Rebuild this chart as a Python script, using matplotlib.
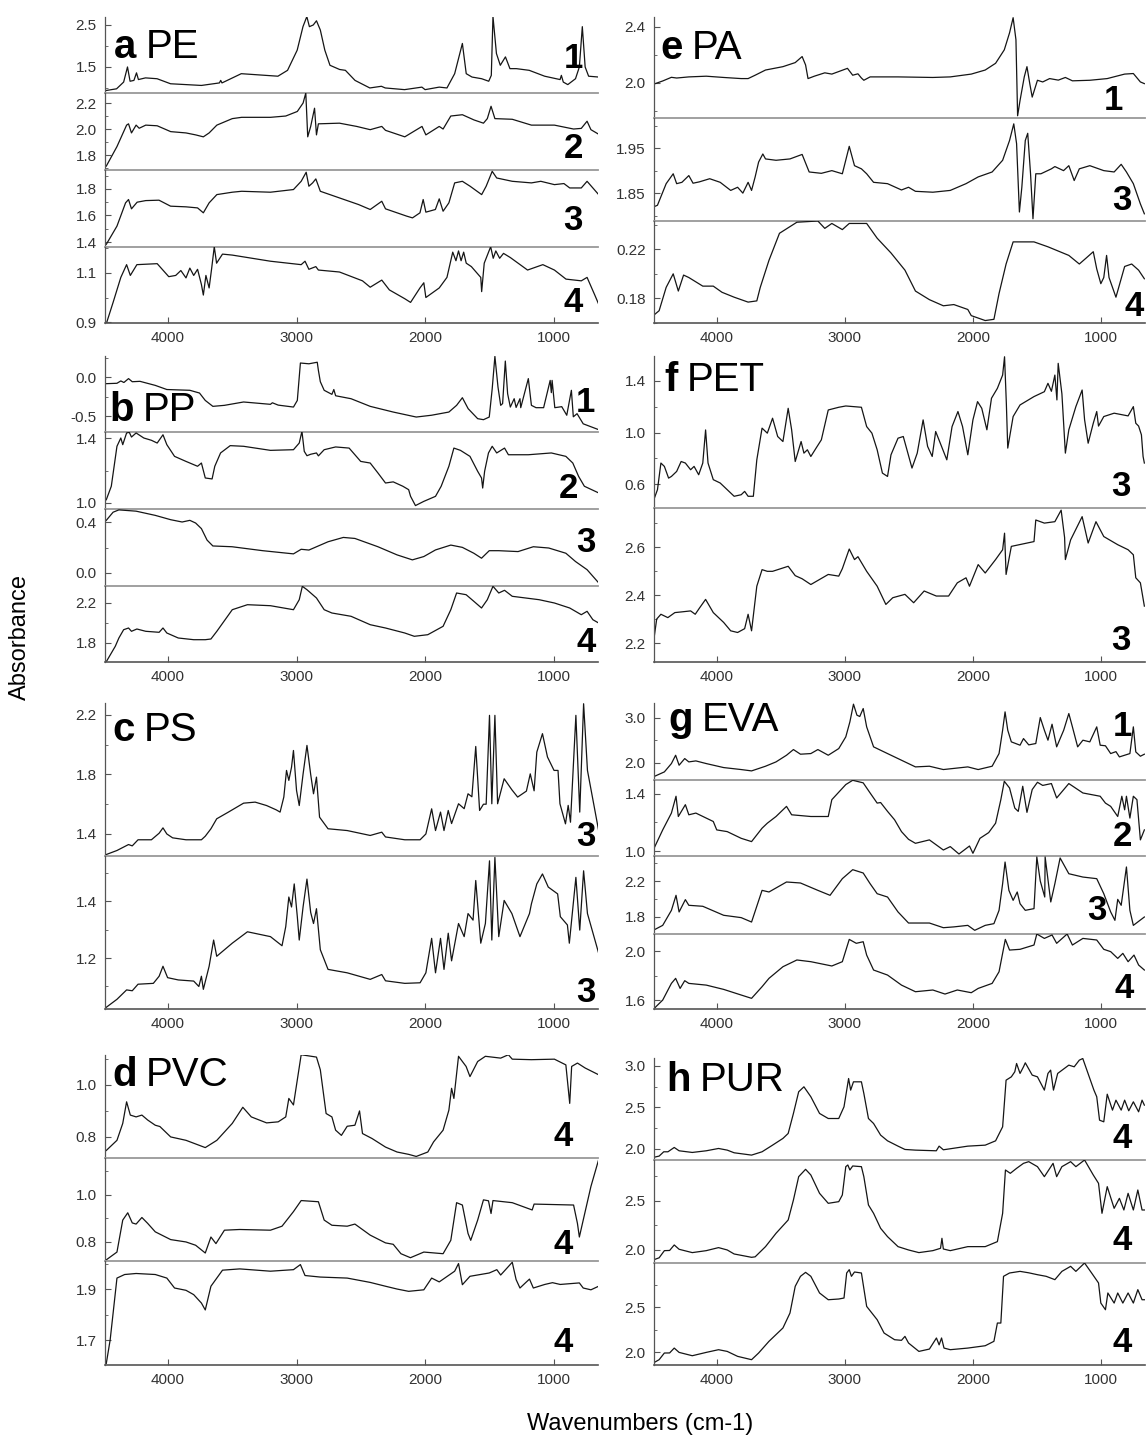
import matplotlib.pyplot as plt
from matplotlib.ticker import AutoMinorLocator

plt.rcParams['font.family'] = ['Liberation Sans', 'DejaVu Sans']

W, H = 1146, 1438

# spectra: (wavenumber cm-1, absorbance)
pe_1 = [(4480, 0.94), (4400, 0.98), (4345, 1.14), (4315, 1.50), (4295, 1.16), (4265, 1.18), (4245, 1.36),
        (4230, 1.20), (4175, 1.24), (4085, 1.22), (3980, 1.10), (3740, 1.06), (3600, 1.12), (3590, 1.18),
        (3580, 1.12), (3430, 1.34), (3145, 1.28), (3070, 1.42), (2995, 1.90), (2950, 2.46), (2920, 2.70),
        (2900, 2.46), (2870, 2.50), (2845, 2.60), (2815, 2.38), (2780, 1.90), (2740, 1.54), (2665, 1.44),
        (2620, 1.42), (2545, 1.18), (2430, 1.00), (2340, 1.04), (2310, 1.00), (2160, 0.96), (2025, 1.02),
        (2000, 0.96), (1890, 1.02), (1830, 1.00), (1770, 1.34), (1710, 2.06), (1680, 1.34), (1635, 1.26),
        (1560, 1.22), (1505, 1.16), (1485, 1.30), (1472, 2.70), (1445, 1.82), (1415, 1.54), (1375, 1.74),
        (1340, 1.46), (1290, 1.46), (1190, 1.42), (1070, 1.28), (950, 1.20), (940, 1.30), (925, 1.14),
        (890, 1.08), (830, 1.22), (800, 1.50), (777, 2.46), (755, 1.50), (728, 1.28), (650, 1.26)]
pe_2 = [(4480, 1.715), (4397, 1.865), (4322, 2.03), (4307, 2.04), (4284, 1.97), (4248, 2.03), (4224, 2.006),
        (4173, 2.03), (4084, 2.025), (3979, 1.98), (3860, 1.97), (3785, 1.955), (3725, 1.94), (3680, 1.97),
        (3620, 2.03), (3500, 2.08), (3427, 2.09), (3203, 2.09), (3084, 2.10), (2994, 2.135), (2949, 2.20),
        (2928, 2.277), (2913, 1.94), (2890, 2.02), (2860, 2.16), (2845, 1.955), (2830, 2.04), (2666, 2.045),
        (2532, 2.02), (2427, 1.995), (2337, 2.02), (2308, 1.99), (2158, 1.94), (2024, 2.02), (1994, 1.955),
        (1890, 2.02), (1860, 2.0), (1800, 2.10), (1710, 2.11), (1620, 2.07), (1546, 2.045), (1516, 2.08),
        (1487, 2.175), (1457, 2.08), (1322, 2.075), (1173, 2.03), (994, 2.03), (845, 2.0), (785, 2.005),
        (740, 2.06), (710, 1.995), (650, 1.96)]
pe_3 = [(4480, 1.383), (4397, 1.52), (4330, 1.695), (4307, 1.72), (4284, 1.65), (4240, 1.70), (4173, 1.712),
        (4070, 1.715), (3980, 1.67), (3860, 1.665), (3770, 1.657), (3725, 1.62), (3680, 1.695), (3620, 1.757),
        (3500, 1.775), (3427, 1.782), (3203, 1.775), (3024, 1.795), (2964, 1.857), (2925, 1.925), (2904, 1.82),
        (2875, 1.845), (2850, 1.875), (2815, 1.782), (2666, 1.732), (2517, 1.682), (2427, 1.645), (2337, 1.707),
        (2308, 1.65), (2218, 1.62), (2143, 1.595), (2098, 1.582), (2040, 1.62), (2015, 1.72), (1994, 1.625),
        (1920, 1.645), (1890, 1.725), (1860, 1.632), (1815, 1.695), (1770, 1.845), (1710, 1.857), (1650, 1.82),
        (1560, 1.757), (1525, 1.82), (1478, 1.932), (1443, 1.882), (1322, 1.857), (1173, 1.845), (1100, 1.857),
        (994, 1.832), (920, 1.84), (875, 1.807), (785, 1.807), (740, 1.857), (695, 1.807), (650, 1.757)]
pe_4 = [(4480, 0.893), (4427, 0.98), (4367, 1.082), (4322, 1.134), (4293, 1.09), (4242, 1.134), (4084, 1.138),
        (3994, 1.085), (3940, 1.09), (3900, 1.11), (3860, 1.08), (3830, 1.12), (3800, 1.09), (3770, 1.115),
        (3740, 1.053), (3725, 1.01), (3705, 1.09), (3680, 1.039), (3660, 1.12), (3640, 1.207), (3622, 1.14),
        (3576, 1.177), (3500, 1.173), (3203, 1.148), (2964, 1.134), (2934, 1.148), (2904, 1.115), (2850, 1.126),
        (2830, 1.112), (2666, 1.104), (2487, 1.068), (2427, 1.042), (2337, 1.071), (2278, 1.031), (2158, 0.995),
        (2113, 0.98), (2040, 1.039), (2010, 1.06), (1994, 1.0), (1890, 1.039), (1830, 1.082), (1785, 1.185),
        (1760, 1.15), (1740, 1.19), (1720, 1.15), (1700, 1.185), (1680, 1.14), (1640, 1.126), (1567, 1.082),
        (1560, 1.024), (1540, 1.14), (1490, 1.207), (1470, 1.16), (1450, 1.19), (1420, 1.16), (1390, 1.18),
        (1337, 1.163), (1203, 1.112), (1084, 1.134), (994, 1.112), (904, 1.075), (785, 1.068), (740, 1.082),
        (680, 1.01), (650, 0.973)]

pp_1 = [(4480, -0.085), (4397, -0.08), (4367, -0.05), (4343, -0.07), (4307, -0.02), (4278, -0.06),
        (4218, -0.055), (4099, -0.107), (4009, -0.16), (3830, -0.17), (3755, -0.205), (3710, -0.30),
        (3651, -0.376), (3561, -0.363), (3412, -0.32), (3203, -0.35), (3188, -0.33), (3143, -0.36),
        (3024, -0.385), (2994, -0.30), (2970, 0.18), (2904, 0.17), (2839, 0.19), (2830, 0.085), (2815, -0.06),
        (2785, -0.17), (2725, -0.222), (2710, -0.16), (2696, -0.24), (2576, -0.278), (2427, -0.376),
        (2248, -0.449), (2069, -0.513), (1950, -0.49), (1815, -0.449), (1755, -0.363), (1710, -0.265),
        (1665, -0.406), (1591, -0.534), (1546, -0.547), (1501, -0.513), (1478, -0.15), (1457, 0.265),
        (1433, -0.128), (1412, -0.363), (1397, -0.34), (1376, 0.205), (1358, -0.214), (1337, -0.385),
        (1307, -0.278), (1292, -0.39), (1262, -0.278), (1256, -0.393), (1197, -0.02), (1173, -0.363),
        (1137, -0.393), (1078, -0.393), (1027, -0.043), (1018, -0.20), (1012, -0.043), (991, -0.393),
        (937, -0.38), (898, -0.49), (862, -0.17), (847, -0.51), (818, -0.47), (770, -0.60), (650, -0.675)]
pp_2 = [(4480, 1.02), (4441, 1.103), (4397, 1.349), (4367, 1.40), (4352, 1.359), (4322, 1.431), (4301, 1.435),
        (4284, 1.406), (4248, 1.431), (4188, 1.40), (4129, 1.386), (4084, 1.369), (4039, 1.42), (4009, 1.359),
        (3949, 1.287), (3860, 1.256), (3770, 1.226), (3740, 1.246), (3710, 1.154), (3657, 1.148), (3636, 1.226),
        (3591, 1.308), (3516, 1.353), (3412, 1.349), (3203, 1.324), (3024, 1.328), (2979, 1.369), (2958, 1.441),
        (2940, 1.318), (2919, 1.291), (2890, 1.30), (2845, 1.308), (2830, 1.29), (2785, 1.328), (2696, 1.345),
        (2591, 1.338), (2501, 1.256), (2427, 1.246), (2367, 1.185), (2308, 1.123), (2248, 1.13), (2173, 1.103),
        (2128, 1.082), (2113, 1.041), (2075, 0.984), (2010, 1.01), (1919, 1.041), (1875, 1.103), (1815, 1.226),
        (1776, 1.338), (1725, 1.324), (1651, 1.287), (1591, 1.195), (1561, 1.154), (1552, 1.092), (1537, 1.195),
        (1507, 1.308), (1478, 1.349), (1443, 1.308), (1382, 1.338), (1352, 1.297), (1197, 1.297), (1018, 1.308),
        (905, 1.287), (851, 1.246), (806, 1.164), (761, 1.103), (650, 1.062)]
pp_3 = [(4480, 0.413), (4427, 0.477), (4382, 0.495), (4248, 0.485), (4099, 0.452), (3979, 0.418),
        (3890, 0.40), (3830, 0.413), (3785, 0.392), (3740, 0.348), (3696, 0.258), (3651, 0.212), (3502, 0.206),
        (3263, 0.175), (3024, 0.15), (2964, 0.186), (2904, 0.18), (2755, 0.245), (2636, 0.279), (2546, 0.271),
        (2367, 0.206), (2218, 0.142), (2099, 0.103), (2010, 0.129), (1919, 0.181), (1800, 0.219), (1710, 0.201),
        (1621, 0.155), (1561, 0.116), (1501, 0.175), (1427, 0.175), (1277, 0.168), (1158, 0.206), (1038, 0.196),
        (905, 0.155), (830, 0.09), (740, 0.026), (650, -0.077)]
pp_4 = [(4480, 1.613), (4410, 1.767), (4382, 1.85), (4345, 1.933), (4307, 1.95), (4284, 1.917), (4242, 1.94),
        (4173, 1.917), (4069, 1.907), (4039, 1.95), (4009, 1.90), (3920, 1.85), (3800, 1.833), (3710, 1.833),
        (3666, 1.84), (3620, 1.917), (3500, 2.133), (3382, 2.183), (3203, 2.173), (3024, 2.133), (2979, 2.233),
        (2955, 2.367), (2919, 2.333), (2845, 2.25), (2785, 2.133), (2725, 2.10), (2576, 2.067), (2427, 1.983),
        (2308, 1.95), (2158, 1.90), (2084, 1.867), (1979, 1.883), (1860, 1.967), (1800, 2.133), (1755, 2.30),
        (1681, 2.283), (1621, 2.217), (1561, 2.15), (1516, 2.233), (1472, 2.367), (1427, 2.30), (1382, 2.327),
        (1322, 2.267), (1113, 2.233), (994, 2.20), (875, 2.15), (785, 2.083), (740, 2.117), (695, 2.033),
        (650, 2.0)]

ps_1 = [(4480, 1.262), (4397, 1.289), (4307, 1.329), (4278, 1.32), (4233, 1.361), (4129, 1.361),
        (4069, 1.405), (4039, 1.441), (4009, 1.40), (3964, 1.374), (3860, 1.361), (3740, 1.361), (3710, 1.385),
        (3666, 1.435), (3621, 1.502), (3530, 1.547), (3412, 1.607), (3322, 1.614), (3233, 1.591), (3158, 1.562),
        (3128, 1.547), (3099, 1.648), (3078, 1.827), (3060, 1.76), (3039, 1.849), (3024, 1.961), (3000, 1.692),
        (2979, 1.591), (2949, 1.804), (2919, 1.995), (2890, 1.80), (2868, 1.67), (2845, 1.782), (2821, 1.513),
        (2755, 1.435), (2606, 1.423), (2427, 1.39), (2337, 1.412), (2308, 1.38), (2158, 1.361), (2039, 1.361),
        (1994, 1.40), (1949, 1.569), (1919, 1.423), (1880, 1.547), (1853, 1.423), (1820, 1.558), (1794, 1.47),
        (1740, 1.603), (1696, 1.57), (1666, 1.67), (1636, 1.65), (1606, 1.988), (1576, 1.558), (1546, 1.60),
        (1525, 1.60), (1499, 2.197), (1481, 1.603), (1457, 2.197), (1436, 1.603), (1385, 1.771), (1325, 1.697),
        (1280, 1.648), (1212, 1.688), (1182, 1.804), (1152, 1.69), (1131, 1.95), (1087, 2.074), (1048, 1.917),
        (997, 1.827), (966, 1.827), (951, 1.603), (908, 1.468), (887, 1.592), (869, 1.479), (827, 2.197),
        (797, 1.547), (767, 2.275), (737, 1.827), (650, 1.423)]
ps_2 = [(4480, 1.027), (4397, 1.055), (4322, 1.088), (4278, 1.085), (4233, 1.108), (4114, 1.111),
        (4069, 1.136), (4039, 1.171), (4003, 1.131), (3920, 1.123), (3800, 1.119), (3760, 1.10), (3740, 1.136),
        (3725, 1.09), (3680, 1.171), (3645, 1.263), (3621, 1.206), (3500, 1.252), (3382, 1.292), (3203, 1.275),
        (3113, 1.243), (3084, 1.31), (3060, 1.414), (3039, 1.379), (3018, 1.46), (2994, 1.345), (2979, 1.263),
        (2949, 1.38), (2919, 1.477), (2890, 1.36), (2868, 1.321), (2845, 1.373), (2815, 1.229), (2755, 1.16),
        (2606, 1.148), (2427, 1.125), (2337, 1.142), (2308, 1.12), (2158, 1.111), (2039, 1.113), (1994, 1.148),
        (1949, 1.269), (1919, 1.148), (1880, 1.269), (1853, 1.16), (1820, 1.287), (1794, 1.19), (1740, 1.321),
        (1696, 1.275), (1666, 1.356), (1627, 1.333), (1606, 1.472), (1567, 1.252), (1531, 1.321), (1499, 1.541),
        (1481, 1.263), (1457, 1.553), (1427, 1.275), (1385, 1.402), (1325, 1.356), (1262, 1.275), (1188, 1.356),
        (1173, 1.39), (1131, 1.46), (1087, 1.495), (1042, 1.449), (969, 1.425), (948, 1.345), (893, 1.316),
        (878, 1.252), (827, 1.483), (797, 1.298), (767, 1.506), (737, 1.356), (650, 1.217)]

pvc_1 = [(4480, 0.748), (4397, 0.787), (4352, 0.852), (4322, 0.935), (4293, 0.884), (4248, 0.877),
         (4203, 0.884), (4158, 0.865), (4099, 0.845), (4063, 0.84), (3979, 0.80), (3860, 0.787), (3710, 0.759),
         (3620, 0.787), (3500, 0.852), (3418, 0.914), (3352, 0.877), (3233, 0.854), (3143, 0.858), (3084, 0.877),
         (3060, 0.948), (3024, 0.923), (2964, 1.116), (2845, 1.107), (2815, 1.058), (2770, 0.89), (2725, 0.877),
         (2696, 0.826), (2651, 0.806), (2606, 0.841), (2546, 0.845), (2510, 0.90), (2487, 0.813), (2413, 0.794),
         (2308, 0.761), (2218, 0.742), (2128, 0.733), (2069, 0.725), (1979, 0.742), (1934, 0.781), (1860, 0.826),
         (1815, 0.903), (1794, 0.987), (1776, 0.948), (1740, 1.11), (1681, 1.071), (1651, 1.032), (1591, 1.09),
         (1531, 1.11), (1412, 1.103), (1352, 1.116), (1322, 1.099), (1173, 1.097), (994, 1.099), (905, 1.077),
         (875, 0.929), (860, 1.071), (815, 1.084), (755, 1.065), (650, 1.039)]
pvc_2 = [(4480, 0.724), (4397, 0.757), (4352, 0.893), (4313, 0.924), (4278, 0.881), (4248, 0.876),
         (4203, 0.904), (4158, 0.879), (4099, 0.843), (3979, 0.81), (3860, 0.80), (3785, 0.786), (3710, 0.753),
         (3666, 0.821), (3627, 0.793), (3561, 0.85), (3442, 0.853), (3203, 0.85), (3113, 0.867), (3024, 0.929),
         (2964, 0.976), (2830, 0.971), (2785, 0.893), (2725, 0.871), (2606, 0.867), (2546, 0.876), (2427, 0.829),
         (2308, 0.796), (2248, 0.79), (2188, 0.75), (2114, 0.733), (2010, 0.757), (1860, 0.75), (1800, 0.807),
         (1755, 0.967), (1710, 0.957), (1666, 0.836), (1645, 0.807), (1591, 0.893), (1546, 0.979), (1507, 0.975),
         (1487, 0.921), (1472, 0.976), (1322, 0.967), (1167, 0.936), (1152, 0.961), (845, 0.957), (815, 0.879),
         (800, 0.821), (770, 0.893), (710, 1.036), (650, 1.15)]
pvc_3 = [(4480, 1.608), (4450, 1.70), (4427, 1.805), (4397, 1.943), (4337, 1.957), (4248, 1.961),
         (4099, 1.957), (4009, 1.943), (3949, 1.904), (3860, 1.895), (3800, 1.878), (3740, 1.845), (3710, 1.818),
         (3666, 1.911), (3576, 1.974), (3442, 1.979), (3203, 1.97), (3024, 1.976), (2970, 1.996), (2934, 1.953),
         (2815, 1.947), (2606, 1.943), (2427, 1.926), (2308, 1.911), (2218, 1.90), (2128, 1.891), (2010, 1.897),
         (1949, 1.943), (1890, 1.928), (1770, 1.97), (1740, 2.00), (1710, 1.917), (1651, 1.95), (1501, 1.963),
         (1442, 1.976), (1412, 1.955), (1322, 2.005), (1292, 1.937), (1262, 1.904), (1218, 1.925), (1188, 1.939),
         (1158, 1.904), (1069, 1.918), (1009, 1.925), (949, 1.918), (800, 1.924), (770, 1.904), (710, 1.897),
         (650, 1.911)]

pa_1 = [(4496, 1.99), (4422, 2.014), (4354, 2.04), (4313, 2.035), (4218, 2.043), (4082, 2.048), (3946, 2.039),
        (3809, 2.031), (3755, 2.031), (3700, 2.055), (3619, 2.092), (3483, 2.116), (3387, 2.145), (3333, 2.188),
        (3306, 2.128), (3287, 2.031), (3238, 2.048), (3156, 2.072), (3101, 2.063), (2979, 2.104), (2938, 2.055),
        (2897, 2.065), (2870, 2.035), (2851, 2.019), (2802, 2.043), (2584, 2.043), (2312, 2.039), (2176, 2.043),
        (2012, 2.063), (1903, 2.092), (1822, 2.14), (1754, 2.236), (1713, 2.357), (1685, 2.465), (1663, 2.308),
        (1650, 1.766), (1631, 1.875), (1598, 2.043), (1577, 2.116), (1555, 1.995), (1536, 1.899), (1495, 2.019),
        (1454, 2.007), (1400, 2.031), (1332, 2.02), (1277, 2.039), (1222, 2.015), (1086, 2.019), (950, 2.031),
        (814, 2.063), (746, 2.067), (691, 2.007), (660, 1.995)]
pa_3 = [(4496, 1.819), (4463, 1.823), (4395, 1.871), (4340, 1.893), (4313, 1.871), (4272, 1.874), (4218, 1.889),
        (4185, 1.872), (4136, 1.875), (4055, 1.882), (3973, 1.874), (3891, 1.856), (3837, 1.863), (3796, 1.85),
        (3755, 1.874), (3728, 1.856), (3700, 1.886), (3673, 1.919), (3640, 1.937), (3619, 1.926), (3537, 1.923),
        (3428, 1.926), (3333, 1.936), (3278, 1.897), (3183, 1.894), (3101, 1.90), (3019, 1.893), (2965, 1.954),
        (2924, 1.911), (2870, 1.904), (2829, 1.893), (2775, 1.874), (2666, 1.871), (2557, 1.857), (2502, 1.863),
        (2448, 1.854), (2312, 1.852), (2176, 1.856), (2053, 1.871), (1958, 1.886), (1849, 1.897), (1767, 1.923),
        (1713, 1.967), (1680, 2.004), (1658, 1.96), (1636, 1.808), (1617, 1.863), (1590, 1.967), (1571, 1.983),
        (1549, 1.893), (1530, 1.793), (1508, 1.893), (1468, 1.893), (1386, 1.904), (1359, 1.909), (1291, 1.90),
        (1250, 1.911), (1208, 1.878), (1168, 1.904), (1086, 1.911), (977, 1.90), (896, 1.897), (841, 1.914),
        (800, 1.897), (746, 1.871), (691, 1.826), (660, 1.804)]
pa_4 = [(4496, 0.166), (4450, 0.17), (4395, 0.189), (4340, 0.20), (4300, 0.186), (4259, 0.199), (4218, 0.197),
        (4109, 0.19), (4027, 0.19), (3959, 0.185), (3864, 0.181), (3755, 0.177), (3687, 0.178), (3660, 0.189),
        (3592, 0.211), (3510, 0.233), (3374, 0.242), (3210, 0.243), (3156, 0.237), (3101, 0.241), (3019, 0.236),
        (2965, 0.241), (2829, 0.241), (2747, 0.229), (2639, 0.217), (2530, 0.203), (2448, 0.186), (2339, 0.179),
        (2230, 0.174), (2148, 0.175), (2039, 0.171), (2012, 0.166), (1903, 0.162), (1835, 0.163), (1795, 0.184),
        (1740, 0.208), (1685, 0.226), (1522, 0.226), (1413, 0.222), (1250, 0.215), (1168, 0.208), (1113, 0.213),
        (1059, 0.218), (1032, 0.204), (1000, 0.192), (977, 0.197), (955, 0.215), (936, 0.197), (882, 0.181),
        (814, 0.206), (759, 0.208), (705, 0.203), (660, 0.196)]

pet_1 = [(4496, 0.466), (4463, 0.556), (4436, 0.763), (4409, 0.737), (4376, 0.646), (4354, 0.659),
         (4313, 0.698), (4278, 0.775), (4245, 0.763), (4204, 0.711), (4177, 0.737), (4141, 0.672), (4109, 0.763),
         (4087, 1.02), (4068, 0.763), (4027, 0.634), (3973, 0.608), (3918, 0.556), (3864, 0.505), (3809, 0.517),
         (3782, 0.543), (3755, 0.505), (3714, 0.505), (3687, 0.788), (3646, 1.034), (3605, 0.995), (3564, 1.111),
         (3524, 0.969), (3483, 0.93), (3442, 1.188), (3415, 1.021), (3387, 0.775), (3341, 0.93), (3319, 0.84),
         (3292, 0.866), (3265, 0.814), (3224, 0.879), (3183, 0.943), (3129, 1.175), (3047, 1.196), (2992, 1.206),
         (2870, 1.196), (2829, 1.046), (2788, 0.995), (2747, 0.866), (2706, 0.685), (2666, 0.659), (2639, 0.827),
         (2584, 0.956), (2543, 0.969), (2475, 0.724), (2434, 0.84), (2388, 1.098), (2353, 0.892), (2317, 0.814),
         (2290, 1.008), (2244, 0.892), (2203, 0.788), (2162, 1.046), (2116, 1.163), (2080, 1.046), (2039, 0.827),
         (1999, 1.098), (1963, 1.24), (1930, 1.188), (1890, 1.021), (1854, 1.266), (1808, 1.343), (1767, 1.446),
         (1752, 1.588), (1738, 1.227), (1727, 0.879), (1685, 1.124), (1631, 1.214), (1522, 1.279), (1441, 1.317),
         (1413, 1.382), (1386, 1.32), (1359, 1.446), (1343, 1.253), (1333, 1.537), (1304, 1.30), (1277, 0.84),
         (1250, 1.021), (1195, 1.201), (1146, 1.33), (1127, 1.10), (1099, 0.917), (1059, 1.072), (1032, 1.163),
         (1018, 1.05), (977, 1.124), (896, 1.15), (787, 1.129), (746, 1.201), (727, 1.072), (705, 1.05),
         (683, 0.982), (670, 0.814), (660, 0.763)]
pet_2 = [(4496, 2.196), (4469, 2.30), (4436, 2.32), (4382, 2.306), (4327, 2.327), (4272, 2.33), (4204, 2.334),
         (4168, 2.32), (4136, 2.345), (4087, 2.382), (4027, 2.327), (3946, 2.286), (3891, 2.251), (3837, 2.244),
         (3782, 2.26), (3755, 2.32), (3728, 2.251), (3687, 2.437), (3646, 2.506), (3605, 2.499), (3564, 2.499),
         (3442, 2.52), (3387, 2.481), (3333, 2.468), (3265, 2.444), (3129, 2.486), (3047, 2.479), (3019, 2.51),
         (2965, 2.592), (2924, 2.548), (2897, 2.56), (2829, 2.499), (2747, 2.437), (2679, 2.361), (2625, 2.389),
         (2530, 2.403), (2462, 2.368), (2380, 2.417), (2285, 2.396), (2189, 2.396), (2121, 2.451), (2053, 2.472),
         (2026, 2.437), (1958, 2.527), (1903, 2.492), (1822, 2.548), (1767, 2.589), (1752, 2.658), (1745, 2.56),
         (1740, 2.486), (1699, 2.603), (1522, 2.623), (1508, 2.713), (1441, 2.70), (1359, 2.706), (1310, 2.754),
         (1283, 2.64), (1277, 2.548), (1236, 2.63), (1146, 2.727), (1099, 2.617), (1038, 2.706), (977, 2.644),
         (868, 2.61), (787, 2.589), (746, 2.568), (727, 2.472), (691, 2.451), (660, 2.354)]

eva_1 = [(4496, 1.689), (4409, 1.80), (4354, 1.985), (4321, 2.17), (4294, 1.948), (4250, 2.096), (4218, 2.022),
         (4163, 2.044), (4082, 1.985), (3946, 1.896), (3809, 1.852), (3728, 1.822), (3619, 1.926), (3537, 2.022),
         (3455, 2.17), (3401, 2.296), (3346, 2.193), (3265, 2.207), (3210, 2.296), (3129, 2.17), (3047, 2.318),
         (2992, 2.578), (2960, 2.911), (2932, 3.304), (2905, 3.06), (2883, 3.03), (2856, 3.207), (2829, 2.80),
         (2775, 2.356), (2666, 2.207), (2557, 2.059), (2448, 1.911), (2339, 1.926), (2230, 1.852), (2039, 1.911),
         (1958, 1.852), (1849, 1.926), (1795, 2.207), (1767, 2.726), (1748, 3.133), (1727, 2.726), (1699, 2.467),
         (1631, 2.393), (1604, 2.54), (1563, 2.40), (1508, 2.43), (1473, 3.007), (1441, 2.726), (1413, 2.504),
         (1381, 2.859), (1345, 2.356), (1290, 2.726), (1250, 3.096), (1222, 2.80), (1181, 2.356), (1140, 2.504),
         (1086, 2.467), (1032, 2.80), (1005, 2.393), (964, 2.38), (923, 2.207), (882, 2.25), (855, 2.133),
         (814, 2.17), (773, 2.207), (746, 2.80), (727, 2.244), (691, 2.148), (660, 2.193)]
eva_2 = [(4496, 1.007), (4422, 1.148), (4354, 1.266), (4318, 1.384), (4300, 1.242), (4245, 1.325),
         (4218, 1.254), (4163, 1.266), (4027, 1.207), (4000, 1.148), (3918, 1.136), (3809, 1.089), (3728, 1.066),
         (3646, 1.16), (3605, 1.195), (3537, 1.242), (3455, 1.313), (3415, 1.254), (3265, 1.242), (3129, 1.242),
         (3101, 1.36), (2992, 1.466), (2938, 1.496), (2856, 1.478), (2802, 1.407), (2747, 1.336), (2720, 1.34),
         (2666, 1.278), (2611, 1.219), (2557, 1.136), (2502, 1.082), (2448, 1.054), (2339, 1.078), (2230, 1.007),
         (2176, 1.031), (2108, 0.979), (2026, 1.035), (1999, 0.984), (1944, 1.089), (1876, 1.129), (1822, 1.195),
         (1781, 1.36), (1754, 1.489), (1713, 1.442), (1672, 1.301), (1645, 1.278), (1610, 1.454), (1577, 1.271),
         (1536, 1.431), (1495, 1.482), (1454, 1.46), (1386, 1.473), (1345, 1.372), (1250, 1.473), (1140, 1.407),
         (1005, 1.384), (964, 1.336), (923, 1.313), (868, 1.242), (836, 1.384), (814, 1.289), (800, 1.384),
         (773, 1.231), (746, 1.384), (718, 1.36), (691, 1.078), (660, 1.148)]
eva_3 = [(4496, 1.652), (4422, 1.707), (4354, 1.874), (4318, 2.041), (4294, 1.856), (4245, 1.993), (4218, 1.93),
         (4109, 1.919), (3946, 1.819), (3809, 1.793), (3728, 1.744), (3646, 2.096), (3592, 2.078), (3455, 2.189),
         (3346, 2.178), (3210, 2.096), (3115, 2.041), (3019, 2.226), (2938, 2.326), (2856, 2.289), (2802, 2.17),
         (2747, 2.059), (2666, 2.022), (2584, 1.856), (2502, 1.733), (2339, 1.733), (2230, 1.681), (2148, 1.69),
         (2039, 1.707), (1985, 1.652), (1903, 1.707), (1835, 1.726), (1795, 1.874), (1767, 2.17), (1748, 2.411),
         (1718, 2.096), (1685, 1.985), (1653, 2.078), (1631, 1.948), (1590, 1.874), (1522, 1.893), (1500, 2.467),
         (1473, 2.20), (1438, 2.022), (1435, 2.467), (1391, 1.967), (1359, 2.17), (1318, 2.456), (1250, 2.281),
         (1140, 2.244), (1032, 2.226), (977, 2.059), (923, 1.856), (890, 1.763), (868, 1.996), (841, 1.93),
         (800, 2.356), (773, 1.874), (746, 1.707), (660, 1.80)]
eva_4 = [(4496, 1.524), (4422, 1.60), (4354, 1.736), (4321, 1.777), (4286, 1.695), (4250, 1.758),
         (4218, 1.736), (4082, 1.722), (3946, 1.687), (3809, 1.641), (3728, 1.614), (3646, 1.709), (3592, 1.777),
         (3483, 1.872), (3374, 1.927), (3265, 1.913), (3101, 1.878), (3019, 1.913), (2965, 2.095), (2910, 2.063),
         (2856, 2.076), (2829, 1.967), (2775, 1.845), (2666, 1.804), (2557, 1.722), (2448, 1.668), (2312, 1.682),
         (2217, 1.649), (2121, 1.682), (2012, 1.66), (1958, 1.695), (1849, 1.736), (1795, 1.831), (1746, 2.095),
         (1713, 2.008), (1631, 2.014), (1522, 2.049), (1500, 2.139), (1441, 2.103), (1381, 2.131), (1345, 2.063),
         (1263, 2.139), (1222, 2.049), (1140, 2.103), (1032, 2.09), (977, 2.014), (923, 1.995), (868, 1.94),
         (828, 1.981), (787, 1.913), (741, 1.967), (705, 1.886), (660, 1.845)]

pur_1 = [(4496, 1.898), (4450, 1.914), (4414, 1.966), (4381, 1.966), (4332, 2.018), (4294, 1.978),
         (4191, 1.958), (4082, 1.978), (3986, 2.006), (3918, 1.986), (3864, 1.954), (3728, 1.926), (3646, 1.966),
         (3564, 2.046), (3483, 2.127), (3442, 2.187), (3401, 2.428), (3360, 2.689), (3319, 2.749), (3265, 2.629),
         (3197, 2.428), (3129, 2.367), (3047, 2.367), (3006, 2.508), (2970, 2.849), (2954, 2.709), (2932, 2.809),
         (2870, 2.809), (2851, 2.669), (2815, 2.367), (2775, 2.307), (2720, 2.167), (2666, 2.098), (2584, 2.034),
         (2530, 1.994), (2448, 1.986), (2285, 1.978), (2263, 2.034), (2230, 1.99), (2039, 2.034), (1903, 2.046),
         (1822, 2.098), (1767, 2.267), (1740, 2.829), (1699, 2.869), (1672, 2.93), (1658, 3.03), (1631, 2.91),
         (1604, 2.99), (1590, 3.038), (1536, 2.89), (1495, 2.869), (1441, 2.709), (1413, 2.91), (1392, 2.95),
         (1370, 2.709), (1337, 2.91), (1250, 3.01), (1208, 2.99), (1168, 3.07), (1141, 3.09), (1086, 2.849),
         (1054, 2.709), (1032, 2.629), (1010, 2.347), (977, 2.327), (950, 2.66), (909, 2.468), (882, 2.588),
         (841, 2.468), (814, 2.588), (782, 2.46), (746, 2.568), (705, 2.448), (678, 2.588), (660, 2.528)]
pur_2 = [(4496, 1.898), (4450, 1.92), (4409, 1.993), (4368, 1.995), (4332, 2.051), (4294, 2.007),
         (4191, 1.973), (4082, 1.993), (3986, 2.024), (3918, 2.0), (3864, 1.959), (3728, 1.925), (3700, 1.93),
         (3619, 2.034), (3537, 2.17), (3442, 2.306), (3401, 2.51), (3360, 2.748), (3306, 2.823), (3265, 2.765),
         (3197, 2.578), (3129, 2.476), (3047, 2.493), (3019, 2.561), (2992, 2.85), (2976, 2.867), (2960, 2.816),
         (2938, 2.857), (2870, 2.85), (2851, 2.748), (2815, 2.459), (2775, 2.374), (2720, 2.221), (2666, 2.136),
         (2584, 2.034), (2502, 2.0), (2421, 1.973), (2312, 1.993), (2252, 2.017), (2241, 2.119), (2230, 2.01),
         (2176, 1.993), (2039, 2.034), (1903, 2.034), (1808, 2.085), (1767, 2.374), (1745, 2.816), (1707, 2.782),
         (1658, 2.833), (1604, 2.884), (1563, 2.901), (1495, 2.85), (1441, 2.748), (1373, 2.884), (1345, 2.748),
         (1304, 2.85), (1236, 2.901), (1195, 2.85), (1127, 2.918), (1059, 2.765), (1018, 2.68), (991, 2.374),
         (950, 2.646), (896, 2.425), (855, 2.527), (820, 2.408), (787, 2.578), (746, 2.408), (711, 2.612),
         (678, 2.408), (660, 2.408)]
pur_3 = [(4496, 1.878), (4450, 1.915), (4409, 1.989), (4368, 1.99), (4332, 2.044), (4294, 1.996),
         (4191, 1.959), (4082, 1.996), (3986, 2.026), (3918, 2.007), (3837, 1.952), (3728, 1.915), (3673, 1.989),
         (3592, 2.119), (3483, 2.267), (3428, 2.433), (3387, 2.73), (3346, 2.841), (3306, 2.885), (3265, 2.841),
         (3197, 2.656), (3129, 2.581), (3047, 2.589), (3006, 2.60), (2985, 2.878), (2965, 2.915), (2948, 2.841),
         (2924, 2.889), (2870, 2.878), (2829, 2.507), (2747, 2.359), (2693, 2.211), (2611, 2.137), (2557, 2.13),
         (2530, 2.174), (2502, 2.10), (2421, 2.007), (2339, 2.033), (2284, 2.156), (2263, 2.08), (2244, 2.156),
         (2225, 2.044), (2176, 2.026), (2039, 2.044), (1903, 2.07), (1835, 2.119), (1808, 2.322), (1781, 2.322),
         (1760, 2.841), (1713, 2.878), (1631, 2.896), (1563, 2.88), (1495, 2.859), (1427, 2.841), (1359, 2.804),
         (1304, 2.896), (1236, 2.952), (1195, 2.896), (1127, 2.989), (1072, 2.878), (1018, 2.767), (1000, 2.544),
         (964, 2.47), (945, 2.656), (896, 2.544), (868, 2.656), (828, 2.544), (787, 2.656), (746, 2.544),
         (711, 2.693), (678, 2.581), (660, 2.581)]

# layout in figure pixels
LEFT = (105, 598)
RIGHT = (654, 1145)
XLIM = (4490, 655)
XTICKS = [4000, 3000, 2000, 1000]

panels = [
    dict(col=LEFT, bounds=[17, 93, 170, 247, 323], letter='a', name='PE', title_xy=(114, 47),
         subs=[(pe_1, (0.88, 2.69), ['1.5', '2.5'], '1', (573, 58)),
               (pe_2, (1.685, 2.277), ['1.8', '2.0', '2.2'], '2', (573, 148)),
               (pe_3, (1.363, 1.942), ['1.4', '1.6', '1.8'], '3', (573, 220)),
               (pe_4, (0.896, 1.206), ['0.9', '1.1'], '4', (573, 302))]),
    dict(col=LEFT, bounds=[356, 432, 509, 586, 662], letter='b', name='PP', title_xy=(109, 410),
         subs=[(pp_1, (-0.705, 0.27), ['-0.5', '0.0'], '1', (585, 402)),
               (pp_2, (0.963, 1.437), ['1.0', '1.4'], '2', (568, 488)),
               (pp_3, (-0.102, 0.502), ['0.0', '0.4'], '3', (586, 542)),
               (pp_4, (1.61, 2.37), ['1.8', '2.2'], '4', (586, 643))]),
    dict(col=LEFT, bounds=[703, 856, 1009], letter='c', name='PS', title_xy=(112, 730),
         subs=[(ps_1, (1.252, 2.28), ['1.4', '1.8', '2.2'], '3', (586, 837)),
               (ps_2, (1.021, 1.558), ['1.2', '1.4'], '3', (586, 992))]),
    dict(col=LEFT, bounds=[1055, 1158, 1261, 1365], letter='d', name='PVC', title_xy=(112, 1075),
         subs=[(pvc_1, (0.719, 1.115), ['0.8', '1.0'], '4', (563, 1137)),
               (pvc_2, (0.719, 1.157), ['0.8', '1.0'], '4', (563, 1245)),
               (pvc_3, (1.602, 2.01), ['1.7', '1.9'], '4', (563, 1342))]),
    dict(col=RIGHT, bounds=[17, 118, 221, 323], letter='e', name='PA', title_xy=(660, 48),
         subs=[(pa_1, (1.75, 2.47), ['2.0', '2.4'], '1', (1113, 100)),
               (pa_3, (1.788, 2.017), ['1.85', '1.95'], '3', (1122, 200)),
               (pa_4, (0.16, 0.243), ['0.18', '0.22'], '4', (1134, 307))]),
    dict(col=RIGHT, bounds=[356, 508, 662], letter='f', name='PET', title_xy=(664, 380),
         subs=[(pet_1, (0.414, 1.594), ['0.6', '1.0', '1.4'], '3', (1121, 487)),
               (pet_2, (2.121, 2.763), ['2.2', '2.4', '2.6'], '3', (1121, 640))]),
    dict(col=RIGHT, bounds=[703, 780, 856, 934, 1009], letter='g', name='EVA', title_xy=(668, 720),
         subs=[(eva_1, (1.62, 3.33), ['2.0', '3.0'], '1', (1122, 727)),
               (eva_2, (0.965, 1.498), ['1.0', '1.4'], '2', (1122, 837)),
               (eva_3, (1.611, 2.478), ['1.8', '2.2'], '3', (1097, 910)),
               (eva_4, (1.527, 2.139), ['1.6', '2.0'], '4', (1124, 988))]),
    dict(col=RIGHT, bounds=[1058, 1160, 1263, 1365], letter='h', name='PUR', title_xy=(666, 1080),
         subs=[(pur_1, (1.867, 3.096), ['2.0', '2.5', '3.0'], '4', (1122, 1138)),
               (pur_2, (1.867, 2.918), ['2.0', '2.5'], '4', (1122, 1240)),
               (pur_3, (1.856, 2.989), ['2.0', '2.5'], '4', (1122, 1343))]),
]


def fxy(x, y):
    return x / W, 1 - y / H


fig = plt.figure(figsize=(W / 100, H / 100), dpi=100)
renderer = fig.canvas.get_renderer()

for p in panels:
    x0, x1 = p['col']
    b = p['bounds']
    n = len(p['subs'])
    for i, (spec, ylim, yt, num, num_xy) in enumerate(p['subs']):
        top, bot = b[i], b[i + 1]
        ax = fig.add_axes([x0 / W, 1 - bot / H, (x1 - x0) / W, (bot - top) / H])
        wn = [q[0] for q in spec]
        ab = [q[1] for q in spec]
        ax.plot(wn, ab, color='#151515', lw=0.9)
        ax.set_xlim(*XLIM)
        ax.set_ylim(*ylim)
        ax.set_yticks([float(t) for t in yt])
        ax.set_yticklabels(yt)
        ax.yaxis.set_minor_locator(AutoMinorLocator(2))
        ax.tick_params(axis='y', which='major', direction='in', length=4, width=0.8,
                       labelsize=11, pad=6, colors='#555', labelcolor='#333')
        ax.tick_params(axis='y', which='minor', direction='in', length=2, width=0.6, colors='#555')
        ax.spines['top'].set_visible(False)
        ax.spines['right'].set_visible(False)
        ax.spines['left'].set_color('#555')
        ax.spines['left'].set_linewidth(0.9)
        if i == n - 1:
            ax.spines['bottom'].set_color('#555')
            ax.spines['bottom'].set_linewidth(1.2)
            ax.set_xticks(XTICKS)
            ax.set_xticklabels([str(t) for t in XTICKS])
            ax.tick_params(axis='x', direction='in', length=4, width=0.8, labelsize=11,
                           pad=6, colors='#555', labelcolor='#333')
        else:
            ax.spines['bottom'].set_color('#999')
            ax.spines['bottom'].set_linewidth(1.3)
            ax.set_xticks([])
        ax.patch.set_alpha(0)
        fig.text(*fxy(*num_xy), num, fontsize=25, fontweight='bold', ha='center', va='center')
    tx, ty = fxy(*p['title_xy'])
    t = fig.text(tx, ty, p['letter'], fontsize=29, fontweight='bold', ha='left', va='center')
    bb = t.get_window_extent(renderer)
    fig.text((bb.x1 + 9) / W, ty, p['name'], fontsize=29, ha='left', va='center')

fig.text(*fxy(20, 637), 'Absorbance', rotation=90, fontsize=17, ha='center', va='center')
fig.text(*fxy(640, 1424), 'Wavenumbers (cm-1)', fontsize=17, ha='center', va='center')

fig.savefig('out.png', dpi=100)
